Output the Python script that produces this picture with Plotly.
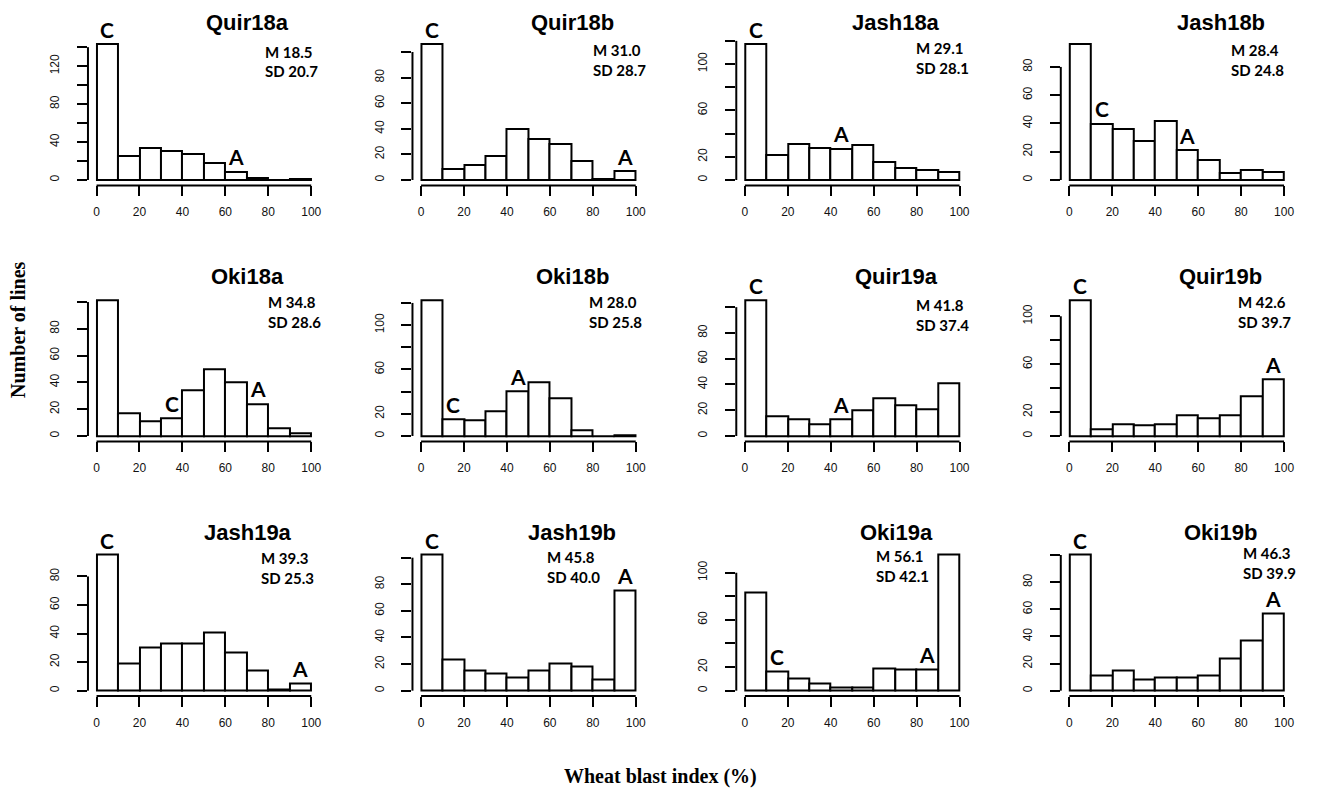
import plotly.graph_objects as go

# ---------------- data ----------------
panel_names = ["Quir18a", "Quir18b", "Jash18a", "Jash18b",
               "Oki18a", "Oki18b", "Quir19a", "Quir19b",
               "Jash19a", "Jash19b", "Oki19a", "Oki19b"]
bin_centers = [5, 15, 25, 35, 45, 55, 65, 75, 85, 95]
x_tick_vals = [0, 20, 40, 60, 80, 100]
x_tick_text = ["0", "20", "40", "60", "80", "100"]

quir18a = [143, 25, 34, 31, 27, 18, 9, 2, 0, 1]
quir18b = [106, 9, 12, 19, 40, 32, 28, 15, 1, 7]
jash18a = [117, 22, 31, 28, 27, 30, 16, 10, 9, 7]
jash18b = [96, 40, 36, 28, 42, 21, 14, 5, 7, 6]
oki18a = [101, 17, 11, 13, 34, 50, 40, 24, 6, 2]
oki18b = [122, 15, 14, 22, 40, 48, 34, 5, 0, 1]
quir19a = [105, 15, 13, 9, 13, 20, 29, 24, 21, 41]
quir19b = [113, 6, 10, 9, 10, 17, 15, 17, 33, 47]
jash19a = [95, 19, 30, 33, 33, 41, 27, 14, 1, 5]
jash19b = [102, 23, 15, 13, 10, 15, 20, 18, 8, 75]
oki19a = [83, 16, 10, 6, 3, 3, 19, 18, 18, 115]
oki19b = [100, 11, 15, 8, 10, 10, 11, 24, 37, 57]
counts = [quir18a, quir18b, jash18a, jash18b, oki18a, oki18b,
          quir19a, quir19b, jash19a, jash19b, oki19a, oki19b]

means = [18.5, 31.0, 29.1, 28.4, 34.8, 28.0, 41.8, 42.6, 39.3, 45.8, 56.1, 46.3]
sds = [20.7, 28.7, 28.1, 24.8, 28.6, 25.8, 37.4, 39.7, 25.3, 40.0, 42.1, 39.9]

# bin index carrying the "C" and "A" marks
c_bin = [0, 0, 0, 1, 3, 1, 0, 0, 0, 0, 1, 0]
a_bin = [6, 9, 4, 5, 7, 4, 4, 9, 9, 9, 8, 9]

# y tick labels shown (others drawn as unlabeled ticks)
y_labels = [
    ["0", "", "40", "", "80", "", "120", ""],
    ["0", "20", "40", "60", "80", ""],
    ["0", "20", "", "60", "", "100", ""],
    ["0", "20", "40", "60", "80"],
    ["0", "20", "40", "60", "80", ""],
    ["0", "20", "", "60", "", "100", ""],
    ["0", "20", "40", "60", "80", ""],
    ["0", "20", "", "60", "", "100"],
    ["0", "20", "40", "60", "80"],
    ["0", "20", "40", "60", "80", ""],
    ["0", "20", "", "60", "", "100"],
    ["0", "20", "40", "60", "80", ""],
]

# ---------------- layout (pixels) ----------------
W, H = 1318, 789
col_left = [88.1, 413.1, 737.4, 1062.4]
col_width = 232.2
row_span = [(38.9, 185.4), (295.3, 441.4), (549.6, 696.1)]
title_y = [22.5, 276.7, 532.3]
stat_pos = [(263, 52), (592, 50), (915, 48), (1231, 50),
            (266, 302), (588, 302), (915, 305), (1238, 302),
            (259, 558), (546, 557), (875, 556), (1243, 553)]

AX_FONT = dict(family="Liberation Sans, Arial", size=12, color="#111")
LINE_W = 2

fig = go.Figure()
annotations = []
shapes = []
layout_axes = {}

for i in range(12):
    r, c = divmod(i, 4)
    n = "" if i == 0 else str(i + 1)
    xa, ya = "x" + n, "y" + n
    data = counts[i]
    M = max(data)
    top_tick = int((1.04 * M) // 20) * 20
    y_ticks = list(range(0, top_tick + 1, 20))

    fig.add_trace(go.Bar(
        x=bin_centers, y=data, width=10,
        marker=dict(color="white", line=dict(color="black", width=LINE_W)),
        xaxis=xa, yaxis=ya, showlegend=False, hoverinfo="x+y"))

    L = col_left[c]
    t, b = row_span[r]
    layout_axes["xaxis" + n] = dict(
        domain=[L / W, (L + col_width) / W], anchor=ya,
        range=[-4, 104], tickvals=x_tick_vals, ticktext=x_tick_text,
        ticks="outside", ticklen=10, tickwidth=LINE_W, tickcolor="black",
        showgrid=False, zeroline=False, showline=False,
        tickfont=AX_FONT, ticklabelstandoff=5, fixedrange=True)
    layout_axes["yaxis" + n] = dict(
        domain=[1 - b / H, 1 - t / H], anchor=xa,
        range=[-0.04 * M, 1.04 * M], tickvals=y_ticks, ticktext=y_labels[i],
        tickangle=-90, ticks="outside", ticklen=10, tickwidth=LINE_W,
        tickcolor="black", showgrid=False, zeroline=False, showline=False,
        tickfont=AX_FONT, ticklabelstandoff=13, fixedrange=True)

    # R-style axis lines (only span the ticks)
    span = 1.08 * M
    shapes.append(dict(type="line", xref=xa + " domain", yref=ya + " domain",
                       x0=0, x1=0, y0=(0.04 * M) / span, y1=(top_tick + 0.04 * M) / span,
                       line=dict(color="black", width=LINE_W)))
    shapes.append(dict(type="line", xref=xa + " domain", yref=ya + " domain",
                       x0=4 / 108, x1=104 / 108, y0=0, y1=0,
                       line=dict(color="black", width=LINE_W)))

    # panel title
    annotations.append(dict(
        text=panel_names[i], xref="paper", yref="paper",
        x=(L + 160) / W, y=1 - title_y[r] / H, xanchor="center", yanchor="middle",
        showarrow=False,
        font=dict(family="Liberation Sans, Arial", size=22, color="black", weight="bold")))

    # M / SD
    sx, sy = stat_pos[i]
    for k, txt in enumerate(["M %.1f" % means[i], "SD %.1f" % sds[i]]):
        annotations.append(dict(
            text=txt, xref="paper", yref="paper",
            x=sx / W, y=1 - (sy + 19.5 * k) / H, xanchor="left", yanchor="middle",
            showarrow=False,
            font=dict(family="Lato, Open Sans", size=15, color="black", weight="bold")))

    # C / A marks
    for letter, bi in (("C", c_bin[i]), ("A", a_bin[i])):
        annotations.append(dict(
            text=letter, xref=xa, yref=ya, x=bin_centers[bi], y=data[bi],
            yshift=15, xanchor="center", yanchor="middle", showarrow=False,
            font=dict(family="Lato, Open Sans", size=21, color="black", weight="bold")))

annotations.append(dict(
    text="Number of lines", xref="paper", yref="paper",
    x=18 / W, y=1 - 329 / H, textangle=-90, showarrow=False,
    xanchor="center", yanchor="middle",
    font=dict(family="Liberation Serif, Times New Roman", size=20, color="black", weight="bold")))
annotations.append(dict(
    text="Wheat blast index (%)", xref="paper", yref="paper",
    x=662 / W, y=1 - 776 / H, showarrow=False,
    xanchor="center", yanchor="middle",
    font=dict(family="Liberation Serif, Times New Roman", size=20, color="black", weight="bold")))

fig.update_layout(
    width=W, height=H, margin=dict(l=0, r=0, t=0, b=0),
    paper_bgcolor="white", plot_bgcolor="white",
    bargap=0, annotations=annotations, shapes=shapes,
    **layout_axes)

fig.write_html("out.html", config={"displayModeBar": False},
               post_script="document.body.style.margin='0';document.body.style.overflow='hidden';")
